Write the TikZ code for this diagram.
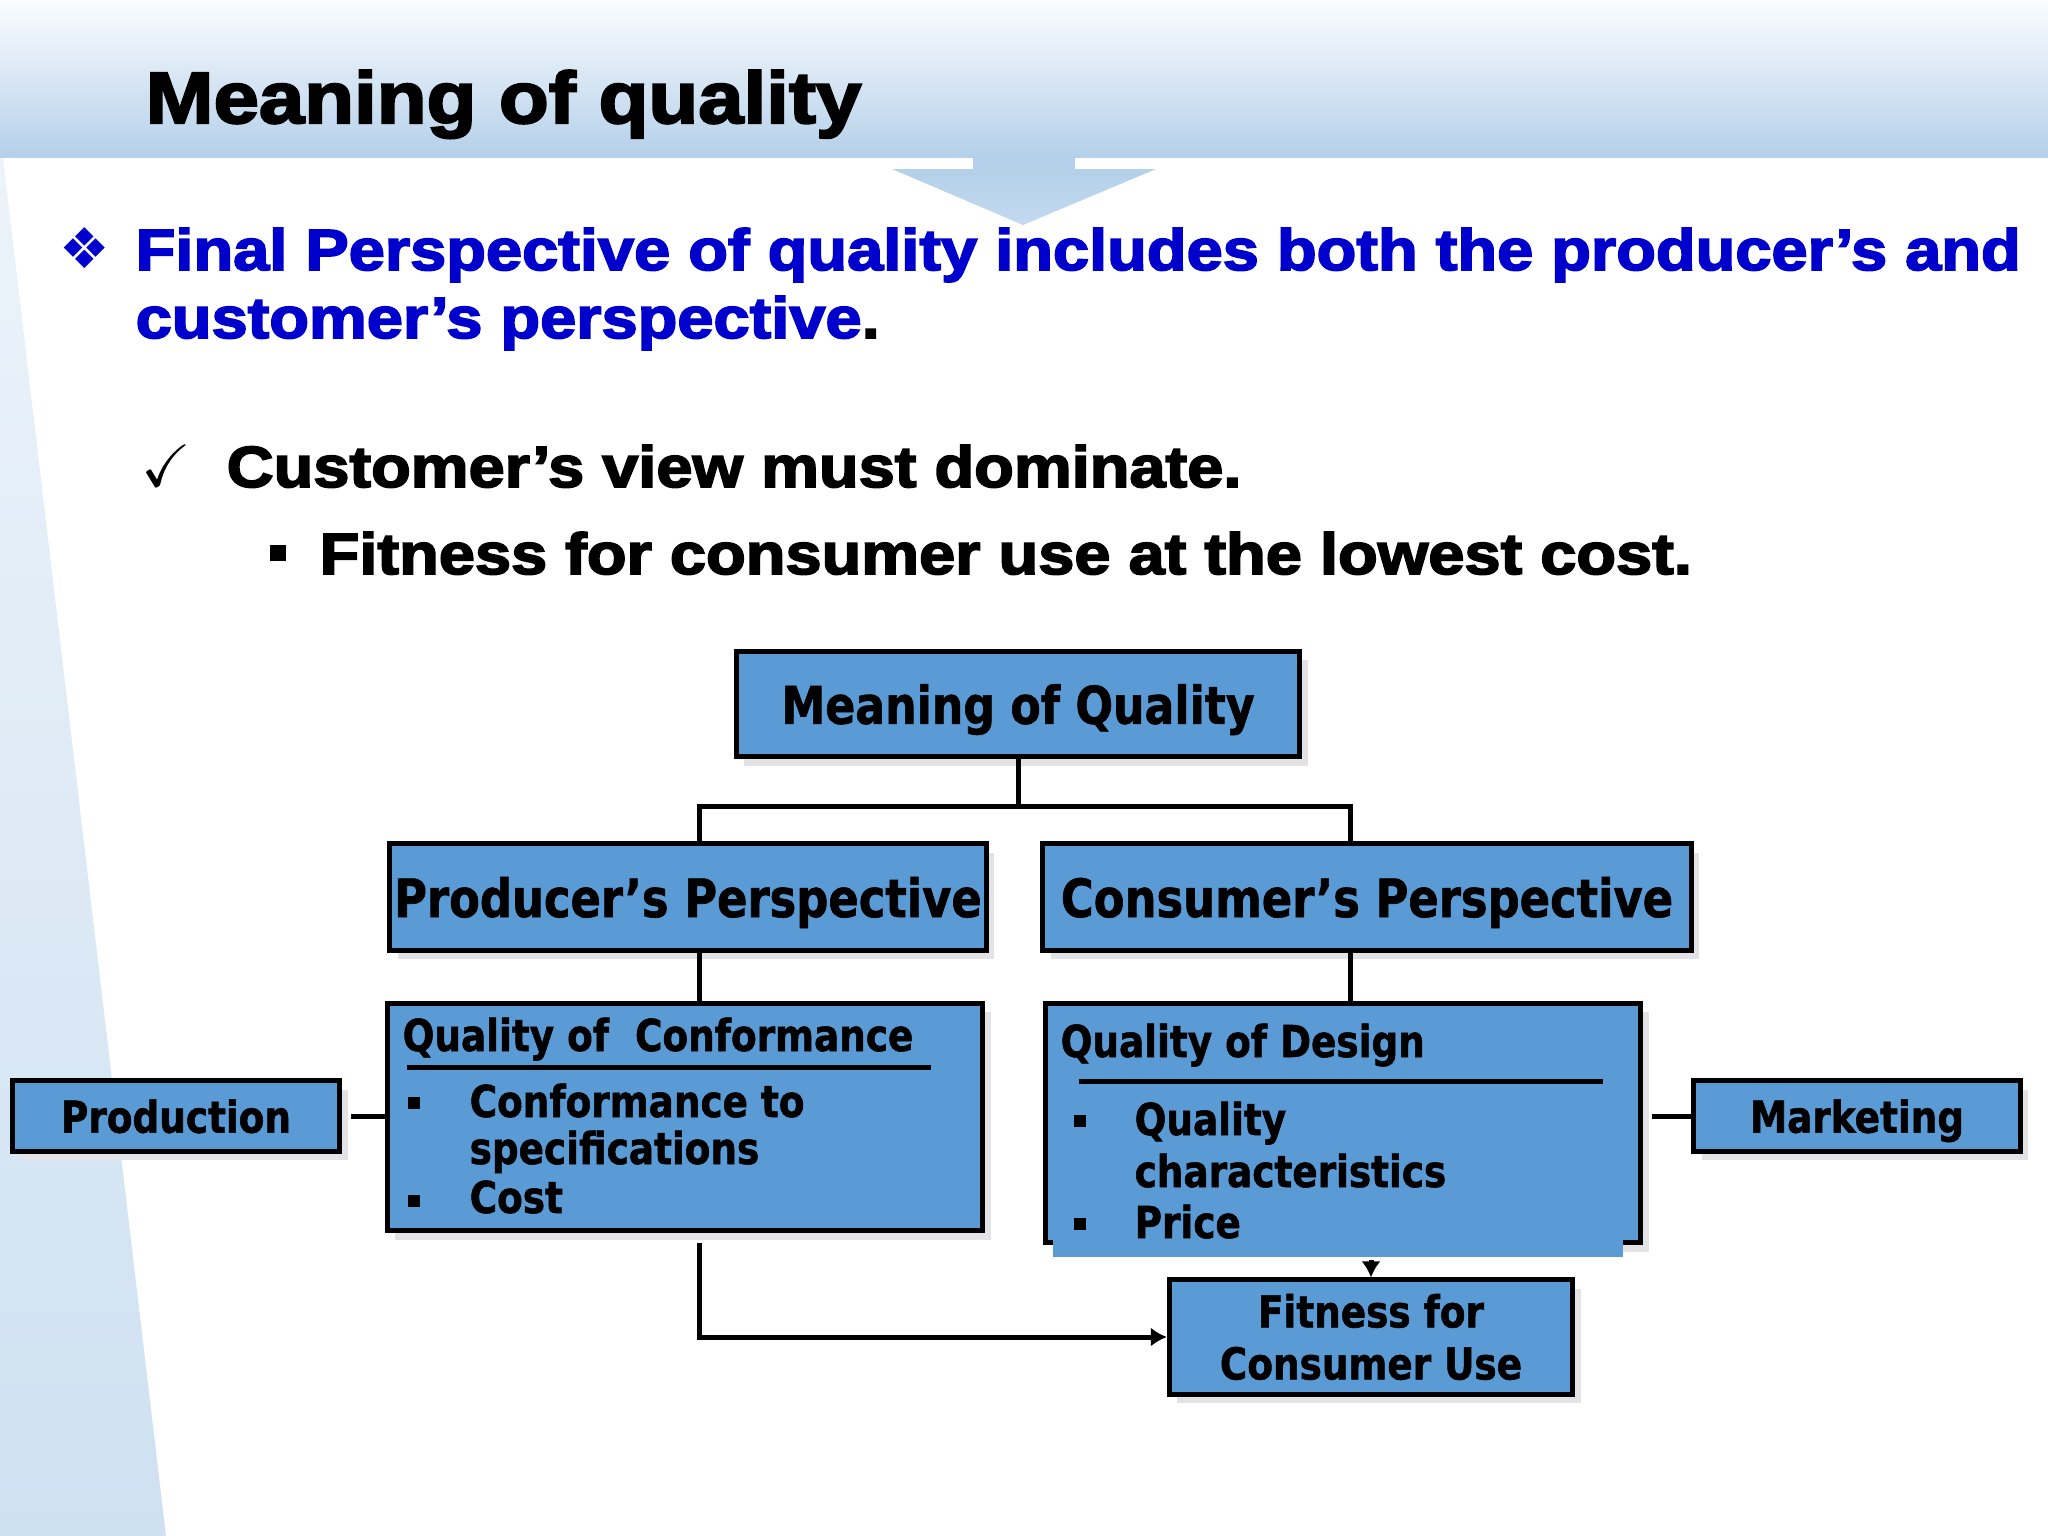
\documentclass[tikz,border=0pt]{standalone}
\usepackage{fontspec}
\usepackage{amssymb}
\usetikzlibrary{arrows.meta,shadows,positioning}
\setmainfont{Liberation Sans}
\newfontfamily\slidefont[FakeStretch=1.12,FakeBold=3,UprightFont=* Bold]{Liberation Sans}
\newfontfamily\boxfont[FakeStretch=0.85,FakeBold=1.2,UprightFont=* Bold]{DejaVu Sans}
\newfontfamily\dingfont{DejaVu Sans}
\definecolor{boxblue}{HTML}{5B9BD5}
\definecolor{slideblue}{HTML}{0000CC}
\definecolor{bandblue}{HTML}{B4D0EA}
\definecolor{shadowgray}{HTML}{E3E3E6}
\tikzset{
  box/.style={draw=black, line width=0.05cm, fill=boxblue, inner sep=0pt,
    drop shadow={shadow xshift=0.08cm, shadow yshift=-0.09cm, fill=shadowgray, opacity=1}},
  bigbox/.style={box, text depth=0pt, font=\boxfont\fontsize{15}{18}\selectfont},
  smallbox/.style={box, text depth=0pt, font=\boxfont\fontsize{12.5}{14.8}\selectfont},
  link/.style={line width=0.05cm},
  tip/.style={-{Latex[length=0.16cm,width=0.19cm]}},
  itemtext/.style={anchor=base west, inner sep=0pt, font=\boxfont\fontsize{12.5}{14.8}\selectfont},
  bodytext/.style={anchor=base west, inner sep=0pt, font=\slidefont\fontsize{16.5}{20}\selectfont}
}
\begin{document}
\begin{tikzpicture}[x=0.01cm,y=-0.01cm]
\useasboundingbox (0,0) rectangle (2048,1536);
\fill[white] (0,0) rectangle (2048,1536);
\shade[top color=bandblue!25!white, middle color=bandblue!95!white, bottom color=bandblue!65!white]
  (0,150) -- (2,150) -- (166,1536) -- (0,1536) -- cycle;
\shade[top color=bandblue!5!white, middle color=bandblue!85!white, bottom color=bandblue]
  (0,0) rectangle (2048,157);
\fill[bandblue] (973,150) rectangle (1075,170);
\shade[top color=bandblue, bottom color=bandblue!80!white] (892,169) -- (1156,169) -- (1023,225) -- cycle;

\node[anchor=base west, inner sep=0pt, font=\slidefont\fontsize{20.7}{24}\selectfont] (title) at (145,123) {Meaning of quality};
\node[inner sep=0pt, text=slideblue, font=\dingfont\fontsize{16}{16}\selectfont] (diam) at (85,248) {❖};
\node[bodytext, text=slideblue] (line1) at (135,270) {Final Perspective of quality includes both the producer’s and};
\node[bodytext] (line2) at (135,338) {\textcolor{slideblue}{customer’s perspective}.};
\node[inner sep=0pt, font=\fontsize{17}{17}\selectfont] (tick) at (166,466) {$\checkmark$};
\node[bodytext] (view) at (226,487) {Customer’s view must dominate.};
\fill (270,545) rectangle (286,561);
\node[bodytext] (cost) at (319,574) {Fitness for consumer use at the lowest cost.};

\node[bigbox, minimum width=5.63cm, minimum height=1.05cm, font=\boxfont\fontsize{14.8}{16}\selectfont] (moq) at (1018,704) {Meaning of Quality};
\node[bigbox, minimum width=5.96cm, minimum height=1.06cm] (prod) at (688,897) {Producer’s Perspective};
\node[bigbox, minimum width=6.48cm, minimum height=1.06cm] (cons) at (1367,897) {Consumer’s Perspective};
\node[box, minimum width=5.95cm, minimum height=2.27cm] (qoc) at (685,1117) {};
\node[box, minimum width=5.95cm, minimum height=2.39cm] (qod) at (1343,1123) {};
\fill[boxblue] (1053,1236) rectangle (1623,1257);
\node[smallbox, minimum width=3.27cm, minimum height=0.70cm] (prodn) at (176,1116) {Production};
\node[smallbox, minimum width=3.26cm, minimum height=0.70cm] (mkt) at (1857,1116) {Marketing};
\node[box, minimum width=4.03cm, minimum height=1.14cm, align=center, font=\boxfont\fontsize{12.5}{14.8}\selectfont] (fit) at (1371,1337) {Fitness for\\Consumer Use};

\node[itemtext] (qoctitle) at (402,1051) {Quality of~ Conformance};
\draw[link] (407,1067) -- (931,1067);
\fill (408,1097) rectangle (420,1109);
\node[itemtext] (qoc1) at (469,1117) {Conformance to};
\node[itemtext] (qoc2) at (469,1164) {specifications};
\fill (408,1195) rectangle (420,1207);
\node[itemtext] (qoc3) at (469,1213) {Cost};

\node[itemtext] (qodtitle) at (1060,1057) {Quality of Design};
\draw[link] (1079,1081) -- (1603,1081);
\fill (1074,1115) rectangle (1086,1127);
\node[itemtext] (qod1) at (1134,1135) {Quality};
\node[itemtext] (qod2) at (1134,1187) {characteristics};
\fill (1074,1218) rectangle (1086,1230);
\node[itemtext] (qod3) at (1134,1238) {Price};

\draw[link] (moq.south) -- ([yshift=-0.47cm]moq.south);
\draw[link] ([xshift=0.11cm]prod.north) |- ([yshift=-0.47cm]moq.south) -| ([xshift=-0.17cm]cons.north);
\draw[link] ([xshift=0.11cm]prod.south) -- ([xshift=0.11cm]prod.south |- qoc.north);
\draw[link] ([xshift=-0.17cm]cons.south) -- ([xshift=-0.17cm]cons.south |- qod.north);
\draw[link, shorten <=0.09cm] (prodn.east) -- (prodn.east -| qoc.west);
\draw[link, shorten <=0.09cm] (qod.east |- mkt.west) -- (mkt.west);
\draw[link, tip] ([yshift=-0.145cm]qod.south -| fit.north) -- (fit.north);
\draw[link, tip, shorten <=0.1cm] ([xshift=0.14cm]qoc.south) |- (fit.west);
\end{tikzpicture}
\end{document}
